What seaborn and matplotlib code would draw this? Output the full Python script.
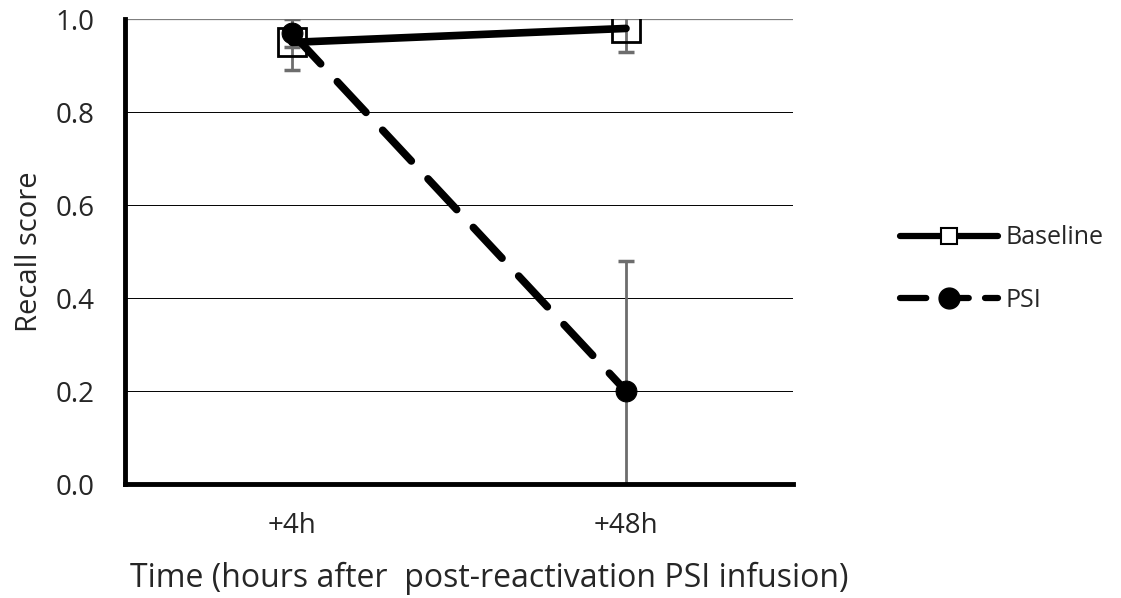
import numpy as np
import pandas as pd
import seaborn as sns
import matplotlib.pyplot as plt
from matplotlib.lines import Line2D

# -----------------------------
# Data
# -----------------------------
times = ["+4h", "+48h"]
baseline = [0.95, 0.98]
baseline_err = [0.06, 0.05]
psi = [0.97, 0.20]
psi_err = [0.03, 0.28]

df = pd.DataFrame({
    "time": times * 2,
    "x": [0, 1, 0, 1],
    "score": baseline + psi,
    "group": ["Baseline"] * 2 + ["PSI"] * 2,
})

sns.set_style("white")
plt.rcParams["font.family"] = ["Open Sans", "DejaVu Sans"]

fig = plt.figure(figsize=(11.21, 5.98), dpi=100)
ax = fig.add_axes([0.1115, 0.1906, 0.5959, 0.7774])

# grid lines
for y in [0.2, 0.4, 0.6, 0.8, 1.0]:
    ax.axhline(y, color="#7f7f7f" if y == 1.0 else "#000000", lw=0.9 if y == 1.0 else 0.7, zorder=0)

# error bars
err_color = "#6d6d6d"
ax.errorbar([0, 1], baseline, yerr=baseline_err, fmt="none", ecolor=err_color,
            elinewidth=2, capsize=6, capthick=2.5, zorder=1)
ax.errorbar([0, 1], psi, yerr=psi_err, fmt="none", ecolor=err_color,
            elinewidth=2, capsize=6, capthick=2.5, zorder=1)

# lines
sns.lineplot(data=df[df.group == "PSI"], x="x", y="score", ax=ax, color="black",
             lw=5.5, marker="o", markersize=15, markeredgecolor="black",
             dashes=False, zorder=3, legend=False)
ax.lines[-1].set_dashes([5.5, 3.2])
ax.lines[-1].set_dash_capstyle("round")
sns.lineplot(data=df[df.group == "Baseline"], x="x", y="score", ax=ax, color="black",
             lw=5.5, marker="s", markersize=20, markerfacecolor="none",
             markeredgecolor="black", markeredgewidth=2, zorder=4, legend=False)
ax.lines[-1].set_solid_capstyle("round")

ax.set_xlim(-0.5, 1.5)
ax.set_ylim(0, 1.0)
ax.set_xticks([0, 1])
ax.set_xticklabels(times, fontsize=20)
ax.set_xticks([-0.5, 0.5, 1.5], minor=True)
ax.set_yticks([0, 0.2, 0.4, 0.6, 0.8, 1.0])
ax.set_yticklabels([f"{v:.1f}" for v in [0, 0.2, 0.4, 0.6, 0.8, 1.0]], fontsize=20)
ax.tick_params(axis="x", which="major", length=0, pad=20)
ax.tick_params(axis="x", which="minor", direction="in", length=7, width=3.5, color="black")
ax.tick_params(axis="y", direction="in", length=7, width=3.5, color="black", pad=22)

for side in ["top", "right"]:
    ax.spines[side].set_visible(False)
for side in ["left", "bottom"]:
    ax.spines[side].set_linewidth(3.5)
    ax.spines[side].set_color("black")

ax.set_xlabel("Time (hours after  post-reactivation PSI infusion)", fontsize=23)
ax.xaxis.set_label_coords(0.546, -0.202)
ax.xaxis.label.set_verticalalignment("center")
ax.set_ylabel("Recall score", fontsize=21, labelpad=8)

handles = [
    Line2D([], [], color="black", lw=4.5, marker="s", markersize=11,
           markerfacecolor="white", markeredgecolor="black", markeredgewidth=1.5,
           solid_capstyle="round"),
    Line2D([], [], color="black", lw=4.5, marker="o", markersize=15,
           dashes=[4.2, 2.6], dash_capstyle="round"),
]
fig.legend(handles, ["Baseline", "PSI"], loc="center left",
           bbox_to_anchor=(0.803, 0.55), frameon=False, fontsize=18,
           borderpad=0, borderaxespad=0,
           handlelength=3.9, handletextpad=0.3, labelspacing=1.5)

fig.savefig("out.png", dpi=100)
